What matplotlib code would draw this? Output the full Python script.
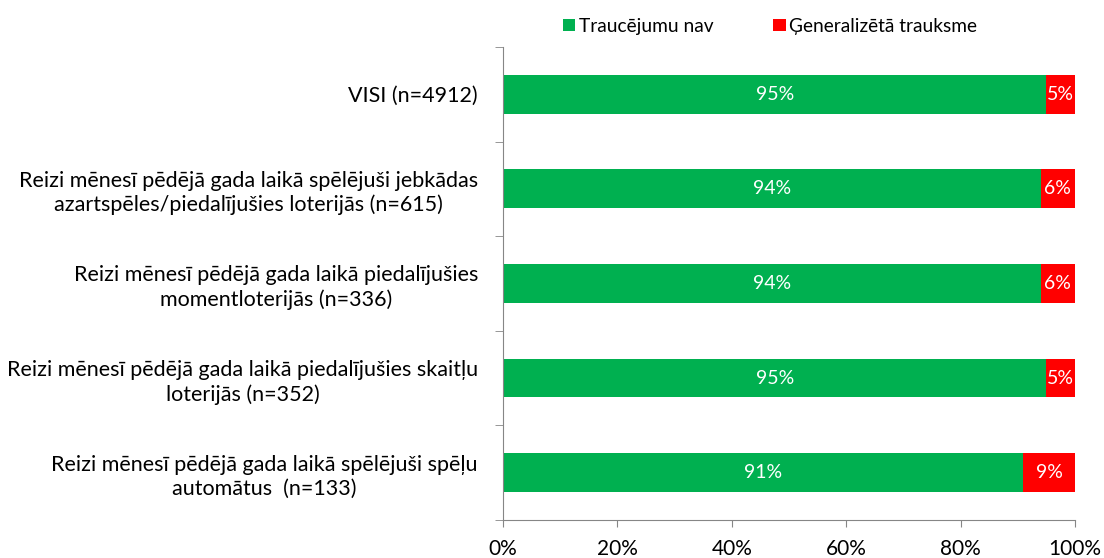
import matplotlib.pyplot as plt
import numpy as np

plt.rcParams['font.family'] = ['Lato', 'DejaVu Sans']

categories = [
    'VISI (n=4912)',
    'Reizi mēnesī pēdējā gada laikā spēlējuši jebkādas\nazartspēles/piedalījušies loterijās (n=615)',
    'Reizi mēnesī pēdējā gada laikā piedalījušies\nmomentloterijās (n=336)',
    'Reizi mēnesī pēdējā gada laikā piedalījušies skaitļu\nloterijās (n=352)',
    'Reizi mēnesī pēdējā gada laikā spēlējuši spēļu\nautomātus  (n=133)',
]
no_disorder = [95, 94, 94, 95, 91]
anxiety = [5, 6, 6, 5, 9]
series_names = ['Traucējumu nav', 'Ģeneralizētā trauksme']
colors = ['#00B050', '#FF0000']

fig = plt.figure(figsize=(11.04, 5.58), dpi=100)
ax = fig.add_axes([0.4556, 0.0681, 0.5181, 0.8477])

y = np.arange(len(categories))[::-1]
h = 0.41
b1 = ax.barh(y, no_disorder, height=h, color=colors[0], label=series_names[0])
b2 = ax.barh(y, anxiety, left=no_disorder, height=h, color=colors[1], label=series_names[1])

for i in range(len(categories)):
    ax.text(no_disorder[i] / 2, y[i], f'{no_disorder[i]}%', ha='center', va='center',
            color='white', fontsize=14)
    ax.text(no_disorder[i] + anxiety[i] / 2, y[i], f'{anxiety[i]}%', ha='center', va='center',
            color='white', fontsize=14)

ax.set_xlim(0, 100)
ax.set_ylim(-0.5, len(categories) - 0.5)
ax.set_xticks(np.arange(0, 101, 20))
ax.set_xticklabels([f'{v}%' for v in range(0, 101, 20)], fontsize=15)
ax.set_yticks(y)
ax.set_yticklabels(categories, fontsize=15.5, multialignment='center', linespacing=1.25)
ax.set_yticks(np.arange(-0.5, len(categories), 1), minor=True)
ax.tick_params(axis='y', which='major', length=0, pad=18)
ax.tick_params(axis='y', which='minor', length=6, color='#868686', direction='out')
ax.tick_params(axis='x', length=5, color='#868686', direction='out', pad=9)

for s in ['top', 'right']:
    ax.spines[s].set_visible(False)
for s in ['left', 'bottom']:
    ax.spines[s].set_color('#868686')

fig.legend(handles=[b1, b2], loc='center', bbox_to_anchor=(0.6975, 0.953), ncol=2,
           frameon=False, fontsize=13.8, handlelength=0.65, handleheight=0.65,
           handletextpad=0.2, columnspacing=3.1)

fig.savefig('out.png', dpi=100)
